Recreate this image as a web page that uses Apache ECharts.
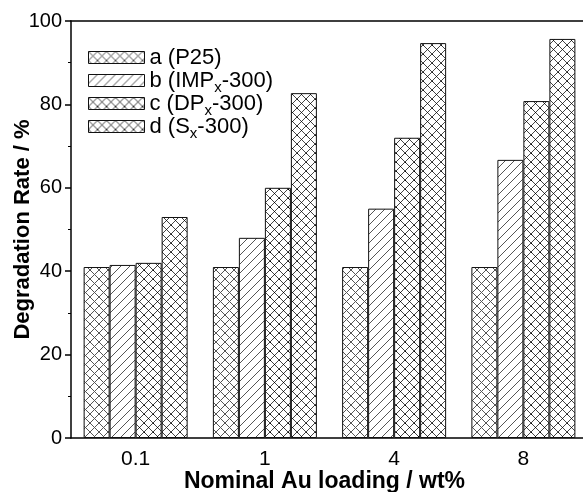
<!DOCTYPE html>
<html>
<head>
<meta charset="utf-8">
<script src="https://cdn.jsdelivr.net/npm/echarts@6/dist/echarts.min.js"></script>
<style>html,body{margin:0;padding:0;background:#fff;}#chart{width:583px;height:492px;}</style>
</head>
<body>
<div id="chart"></div>
<script>
var categories = ['0.1', '1', '4', '8'];
var seriesNames = ['a (P25)', 'b (IMPx-300)', 'c (DPx-300)', 'd (Sx-300)'];
var valuesA = [41, 41, 41, 41];
var valuesB = [41.5, 48, 55, 66.7];
var valuesC = [42, 60, 72, 80.8];
var valuesD = [53, 82.7, 94.7, 95.7];
var yTicks = [0, 20, 40, 60, 80, 100];
var legendRich = {
  'a (P25)': '{t|a (P25)}{s| }',
  'b (IMPx-300)': '{t|b (IMP}{s|x}{t|-300)}',
  'c (DPx-300)': '{t|c (DP}{s|x}{t|-300)}',
  'd (Sx-300)': '{t|d (S}{s|x}{t|-300)}'
};

function makePattern(kind, line, dot) {
  var s = 9;
  var c = document.createElement('canvas');
  c.width = s; c.height = s;
  var g = c.getContext('2d');
  g.fillStyle = '#fff'; g.fillRect(0, 0, s, s);
  g.strokeStyle = line; g.lineWidth = 1;
  g.beginPath();
  if (kind === 'cross') {
    g.moveTo(0, 0); g.lineTo(s, s);
    g.moveTo(0, s); g.lineTo(s, 0);
  } else {
    g.moveTo(-1, s + 1); g.lineTo(s + 1, -1);
    g.moveTo(-1 - s, s + 1); g.lineTo(1, -1);
    g.moveTo(s - 1, s + 1); g.lineTo(2 * s + 1, -1);
  }
  g.stroke();
  if (dot) {
    g.fillStyle = dot;
    g.fillRect(Math.floor(s / 2), Math.floor(s / 2), 1, 1);
    g.fillRect(0, 0, 1, 1);
  }
  return { image: c, repeat: 'repeat' };
}

var patterns = [
  makePattern('cross', '#555', null),
  makePattern('hatch', '#555', null),
  makePattern('cross', '#444', '#000'),
  makePattern('cross', '#444', '#111')
];
var allValues = [valuesA, valuesB, valuesC, valuesD];

var chart = echarts.init(document.getElementById('chart'), null, { renderer: 'canvas' });
var font = 'Liberation Sans, Arial, sans-serif';
var series = allValues.map(function (vals, i) {
  return {
    name: seriesNames[i],
    type: 'bar',
    data: vals,
    barWidth: 26,
    barGap: '0%',
    itemStyle: { color: patterns[i], borderColor: '#111', borderWidth: 1 },
    emphasis: { disabled: true }
  };
});

chart.setOption({
  animation: false,
  backgroundColor: '#fff',
  grid: { left: 71, top: 21, width: 517, height: 417, containLabel: false, outerBoundsMode: 'none' },
  legend: {
    orient: 'vertical',
    left: 83,
    top: 38,
    itemWidth: 56,
    itemHeight: 12,
    itemGap: -6,
    icon: 'rect',
    data: seriesNames,
    formatter: function (name) { return legendRich[name]; },
    textStyle: {
      fontFamily: font,
      color: '#000',
      rich: {
        t: { fontSize: 22, fontFamily: font, color: '#000', lineHeight: 22 },
        s: { fontSize: 15, fontFamily: font, color: '#000', lineHeight: 15, padding: [14, 0, 0, 0] }
      }
    },
    itemStyle: { borderColor: '#111', borderWidth: 1 }
  },
  xAxis: [{
    type: 'category',
    data: categories,
    position: 'bottom',
    axisLine: { show: true, lineStyle: { color: '#000', width: 1.5 } },
    axisTick: { show: false },
    axisLabel: { fontSize: 21, fontFamily: font, color: '#000', margin: 11 },
    name: 'Nominal Au loading / wt%',
    nameLocation: 'middle',
    nameGap: 32,
    nameMoveOverlap: false,
    nameTextStyle: { fontSize: 23, fontWeight: 'bold', fontFamily: font, color: '#000', padding: [0, 10, 0, 0] }
  }, {
    type: 'category',
    data: categories,
    position: 'top',
    axisLine: { show: true, lineStyle: { color: '#000', width: 1.5 } },
    axisTick: { show: false },
    axisLabel: { show: false }
  }],
  yAxis: {
    type: 'value',
    min: yTicks[0],
    max: yTicks[yTicks.length - 1],
    interval: 20,
    axisLine: { show: true, lineStyle: { color: '#000', width: 1.5 } },
    axisTick: { show: true, inside: false, length: 6, lineStyle: { color: '#000', width: 1.5 } },
    minorTick: { show: true, splitNumber: 2, length: 3, lineStyle: { color: '#000', width: 1 } },
    splitLine: { show: false },
    axisLabel: { fontSize: 20, fontFamily: font, color: '#000', margin: 9 },
    name: 'Degradation Rate / %',
    nameLocation: 'middle',
    nameGap: 37,
    nameMoveOverlap: false,
    nameTextStyle: { fontSize: 22, fontWeight: 'bold', fontFamily: font, color: '#000' }
  },
  series: series
});
</script>
</body>
</html>
